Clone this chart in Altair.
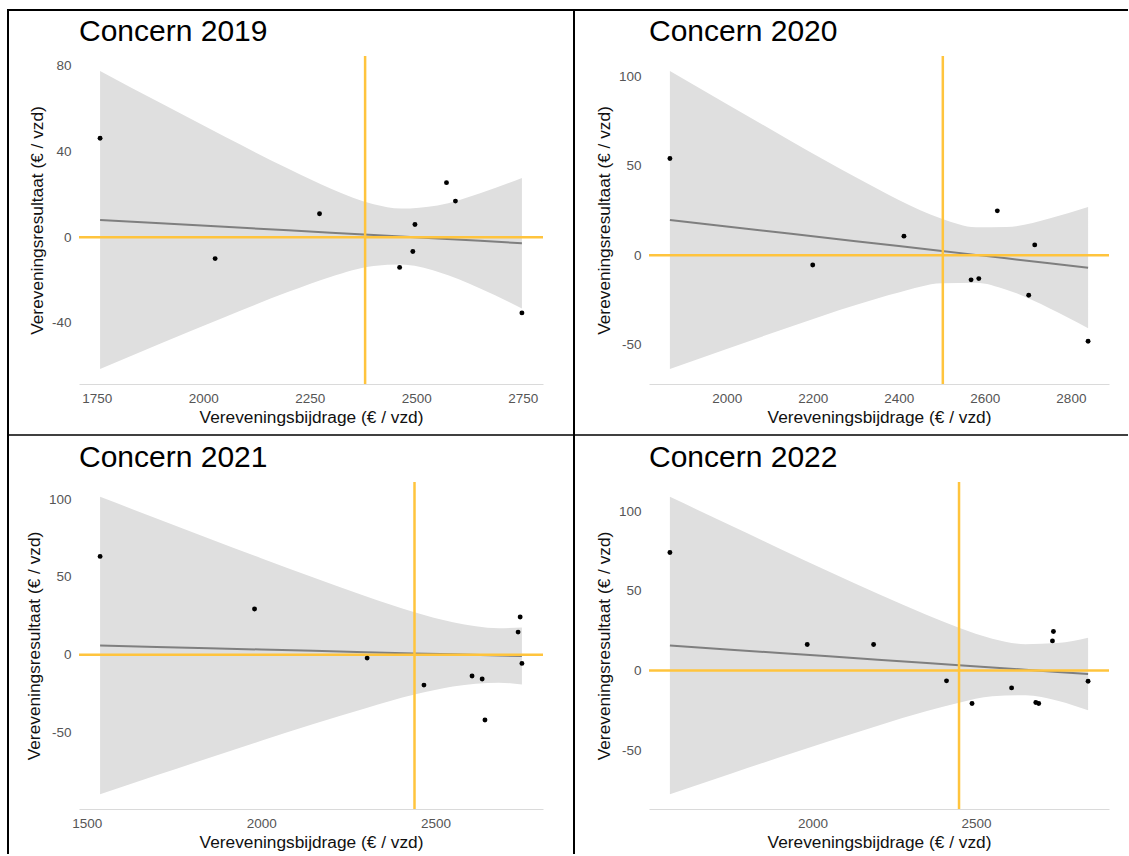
import altair as alt
import numpy as np
import pandas as pd

FONT = "Liberation Sans"
ORANGE = "#FFC43D"
BAND = "#DFDFDF"
FIT = "#7F7F7F"

X_TITLE = "Vereveningsbijdrage (€ / vzd)"
Y_TITLE = "Vereveningsresultaat (€ / vzd)"

# --- data per year: contribution (x) and result (y) per concern ---
bijdrage_2019 = [1758, 2028, 2273, 2461, 2492, 2497, 2571, 2592, 2748]
resultaat_2019 = [46.1, -10.0, 10.9, -14.1, -6.7, 5.9, 25.4, 16.8, -35.3]

bijdrage_2020 = [1868, 2200, 2412, 2568, 2586, 2629, 2702, 2716, 2840]
resultaat_2020 = [54.0, -5.4, 10.7, -13.7, -13.0, 24.8, -22.3, 5.8, -48.0]

bijdrage_2021 = [1538, 1981, 2304, 2467, 2605, 2634, 2642, 2737, 2743, 2748]
resultaat_2021 = [63.2, 29.4, -2.1, -19.4, -13.6, -15.5, -41.8, 14.6, 24.3, -5.5]

bijdrage_2022 = [1564, 1984, 2187, 2410, 2488, 2609, 2683, 2692, 2734, 2737, 2843]
resultaat_2022 = [74.1, 16.3, 16.3, -6.5, -20.7, -10.9, -20.1, -20.7, 18.6, 24.5, -6.7]

# --- fitted trend with its 95% band, per year ---
band_x_2019 = [1758, 1900, 2050, 2200, 2300, 2400, 2464, 2550, 2650, 2748]
fit_2019 = [8.0, 6.45, 4.81, 3.18, 2.09, 1.0, 0.30, -0.64, -1.73, -2.8]
lo_2019 = [-61.5, -49.6, -37.3, -25.5, -18.4, -13.4, -12.75, -16.1, -23.9, -33.2]
hi_2019 = [77.5, 62.5, 46.9, 31.9, 22.6, 15.4, 13.35, 14.8, 20.5, 27.6]

band_x_2020 = [1868, 2000, 2150, 2300, 2400, 2500, 2579, 2650, 2750, 2840]
fit_2020 = [19.7, 16.09, 11.98, 7.88, 5.14, 2.40, 0.24, -1.70, -4.44, -6.9]
lo_2020 = [-63.5, -52.3, -39.7, -27.7, -20.7, -15.6, -15.3, -19.2, -29.5, -40.7]
hi_2020 = [102.9, 84.5, 63.7, 43.5, 30.9, 20.4, 15.7, 15.8, 20.6, 26.9]

band_x_2021 = [1538, 1700, 1850, 2000, 2150, 2300, 2440, 2550, 2682, 2748]
fit_2021 = [6.0, 5.09, 4.25, 3.40, 2.56, 1.72, 0.93, 0.31, -0.43, -0.8]
lo_2021 = [-89.4, -77.3, -66.2, -55.2, -44.4, -34.2, -25.5, -20.3, -17.9, -19.1]
hi_2021 = [101.4, 87.5, 74.7, 62.0, 49.6, 37.6, 27.3, 20.9, 17.1, 17.5]

band_x_2022 = [1564, 1750, 1900, 2050, 2200, 2350, 2448, 2550, 2651, 2750, 2843]
fit_2022 = [15.7, 13.1, 11.0, 8.9, 6.8, 4.7, 3.33, 1.9, 0.49, -0.9, -2.2]
lo_2022 = [-77.6, -64.8, -54.5, -44.4, -34.6, -25.4, -20.2, -16.2, -15.5, -19.0, -25.0]
hi_2022 = [109.0, 91.0, 76.5, 62.2, 48.2, 34.8, 26.8, 20.0, 16.5, 17.2, 20.6]

# --- tick labels per panel ---
x_ticks_2019 = [1750, 2000, 2250, 2500, 2750]
x_ticks_2020 = [2000, 2200, 2400, 2600, 2800]
x_ticks_2021 = [1500, 2000, 2500]
x_ticks_2022 = [2000, 2500]

y_ticks_2019 = [-40, 0, 40, 80]
y_ticks_2020 = [-50, 0, 50, 100]
y_ticks_2021 = [-50, 0, 50, 100]
y_ticks_2022 = [-50, 0, 50, 100]


def expand(lo, hi, frac=0.05):
    d = (hi - lo) * frac
    return [lo - d, hi + d]


def panel(year, xs, ys, bx, bfit, blo, bhi, xt, yt, width, height, extras=None):
    pts = pd.DataFrame({"x": xs, "y": ys})
    band = pd.DataFrame({"x": bx, "fit": bfit, "lo": blo, "hi": bhi})
    xdom = expand(min(min(xs), min(bx)), max(max(xs), max(bx)))
    ydom = expand(min(min(ys), min(blo)), max(max(ys), max(bhi)))

    xs_ = alt.Scale(domain=xdom, nice=False, zero=False)
    ys_ = alt.Scale(domain=ydom, nice=False, zero=False)

    xaxis = alt.Axis(
        values=xt, title=X_TITLE, grid=False, ticks=False, domain=True,
        domainColor="#DADADA", domainWidth=1, labelColor="#555555",
        labelFont=FONT, labelFontSize=13.5, labelPadding=7, labelFlush=False,
        labelExpr="'' + datum.value", titleFont=FONT, titleFontSize=17.3,
        titleFontWeight="normal", titleColor="#111111", titlePadding=4,
    )
    yaxis = alt.Axis(
        values=yt, title=Y_TITLE, grid=False, ticks=False, domain=False,
        labelColor="#555555", labelFont=FONT, labelFontSize=13.5,
        labelPadding=8, labelExpr="'' + datum.value", titleFont=FONT,
        titleFontSize=17.3, titleFontWeight="normal", titleColor="#111111",
        titlePadding=5,
    )

    area = alt.Chart(band).mark_area(
        color=BAND, opacity=1, interpolate="monotone"
    ).encode(
        x=alt.X("x:Q", scale=xs_, axis=xaxis),
        y=alt.Y("lo:Q", scale=ys_, axis=yaxis),
        y2="hi:Q",
    )
    fit = alt.Chart(band).mark_line(color=FIT, strokeWidth=2).encode(
        x="x:Q", y="fit:Q"
    )
    hline = alt.Chart(pd.DataFrame({"y": [0]})).mark_rule(
        color=ORANGE, strokeWidth=2.5
    ).encode(y="y:Q")
    vline = alt.Chart(pd.DataFrame({"x": [float(np.mean(xs))]})).mark_rule(
        color=ORANGE, strokeWidth=2.5
    ).encode(x="x:Q")
    dots = alt.Chart(pts).mark_circle(color="black", size=24, opacity=1).encode(
        x="x:Q", y="y:Q"
    )
    title = alt.Chart(pd.DataFrame({"t": [f"Concern {year}"]})).mark_text(
        align="left", baseline="alphabetic", font=FONT, fontSize=30,
        color="black", clip=False,
    ).encode(x=alt.value(0), y=alt.value(-15), text="t:N")

    layers = [area, fit, hline, vline, dots, title]
    if extras:
        layers += extras
    return alt.layer(*layers).properties(width=width, height=height)


# table frame around the four panels (pixel offsets from the first panel)
frame_src = alt.Chart(pd.DataFrame({"k": [0]}))
frame = [
    frame_src.mark_rule(color="black", strokeWidth=2, clip=False).encode(
        x=alt.value(-72), x2=alt.value(1049), y=alt.value(-46)),
    frame_src.mark_rule(color="black", strokeWidth=2, clip=False).encode(
        x=alt.value(-71), y=alt.value(-46), y2=alt.value(798)),
    frame_src.mark_rule(color="black", strokeWidth=2, clip=False).encode(
        x=alt.value(495), y=alt.value(-46), y2=alt.value(798)),
    frame_src.mark_rule(color="black", strokeWidth=1.5, clip=False).encode(
        x=alt.value(-72), x2=alt.value(1049), y=alt.value(379)),
]

p1 = panel(2019, bijdrage_2019, resultaat_2019, band_x_2019, fit_2019, lo_2019, hi_2019,
           x_ticks_2019, y_ticks_2019, 464, 328, frame)
p2 = panel(2020, bijdrage_2020, resultaat_2020, band_x_2020, fit_2020, lo_2020, hi_2020,
           x_ticks_2020, y_ticks_2020, 460, 328)
p3 = panel(2021, bijdrage_2021, resultaat_2021, band_x_2021, fit_2021, lo_2021, hi_2021,
           x_ticks_2021, y_ticks_2021, 464, 327)
p4 = panel(2022, bijdrage_2022, resultaat_2022, band_x_2022, fit_2022, lo_2022, hi_2022,
           x_ticks_2022, y_ticks_2022, 460, 327)

chart = (
    alt.concat(p1, p2, p3, p4, columns=2, spacing={"row": 98, "column": 106}, bounds="flush")
    .resolve_scale(x="independent", y="independent")
    .properties(padding={"left": 6, "top": 9, "right": 0, "bottom": 0}, background="white")
    .configure_view(stroke=None)
)

chart.save("out.html", embed_options={"renderer": "svg", "actions": False})
